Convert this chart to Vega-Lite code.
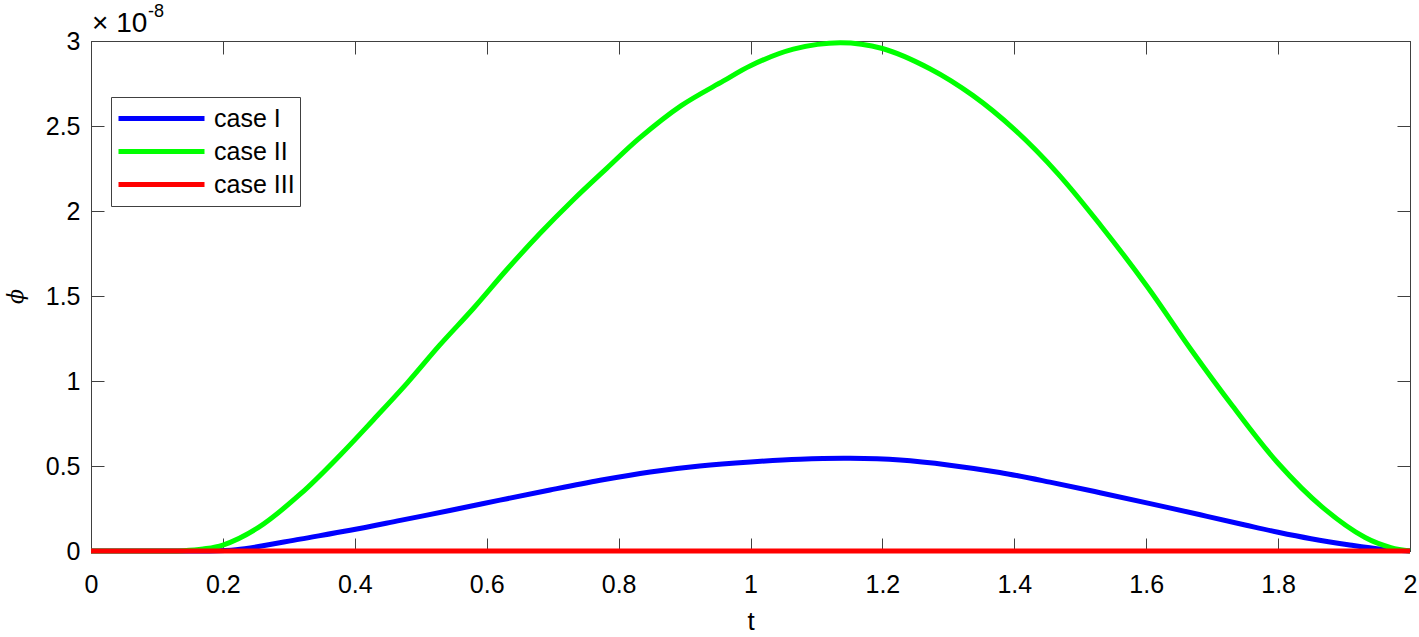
{
  "$schema": "https://vega.github.io/schema/vega-lite/v6.json",
  "width": 1319,
  "height": 510,
  "autosize": {"type": "none"},
  "padding": {"left": 91, "top": 41, "right": 9, "bottom": 86},
  "background": "white",
  "config": {
    "view": {"stroke": "#404040", "strokeWidth": 1},
    "font": "Liberation Sans",
    "axis": {
      "grid": false,
      "domainColor": "#404040",
      "tickColor": "#404040",
      "tickSize": -13,
      "labelColor": "black",
      "labelFont": "Liberation Sans",
      "labelFontSize": 25,
      "titleColor": "black",
      "titleFontWeight": "normal"
    }
  },
  "data": {
    "values": [
      {"t": 0.0, "phi": 0.0, "series": "case I"},
      {"t": 0.15, "phi": 0.0, "series": "case I"},
      {"t": 0.18, "phi": 0.0005e-8, "series": "case I"},
      {"t": 0.22, "phi": 0.008e-8, "series": "case I"},
      {"t": 0.254, "phi": 0.026e-8, "series": "case I"},
      {"t": 0.317, "phi": 0.07e-8, "series": "case I"},
      {"t": 0.393, "phi": 0.122e-8, "series": "case I"},
      {"t": 0.469, "phi": 0.18e-8, "series": "case I"},
      {"t": 0.544, "phi": 0.238e-8, "series": "case I"},
      {"t": 0.62, "phi": 0.299e-8, "series": "case I"},
      {"t": 0.696, "phi": 0.359e-8, "series": "case I"},
      {"t": 0.772, "phi": 0.416e-8, "series": "case I"},
      {"t": 0.848, "phi": 0.465e-8, "series": "case I"},
      {"t": 0.923, "phi": 0.5e-8, "series": "case I"},
      {"t": 1.0, "phi": 0.524e-8, "series": "case I"},
      {"t": 1.075, "phi": 0.54e-8, "series": "case I"},
      {"t": 1.151, "phi": 0.545e-8, "series": "case I"},
      {"t": 1.227, "phi": 0.535e-8, "series": "case I"},
      {"t": 1.302, "phi": 0.505e-8, "series": "case I"},
      {"t": 1.378, "phi": 0.462e-8, "series": "case I"},
      {"t": 1.454, "phi": 0.405e-8, "series": "case I"},
      {"t": 1.53, "phi": 0.343e-8, "series": "case I"},
      {"t": 1.606, "phi": 0.279e-8, "series": "case I"},
      {"t": 1.682, "phi": 0.213e-8, "series": "case I"},
      {"t": 1.75, "phi": 0.153e-8, "series": "case I"},
      {"t": 1.8, "phi": 0.11e-8, "series": "case I"},
      {"t": 1.85, "phi": 0.072e-8, "series": "case I"},
      {"t": 1.906, "phi": 0.037e-8, "series": "case I"},
      {"t": 1.958, "phi": 0.01e-8, "series": "case I"},
      {"t": 2.0, "phi": 0.0, "series": "case I"},
      {"t": 0.0, "phi": 0.0, "series": "case II"},
      {"t": 0.11, "phi": 0.0, "series": "case II"},
      {"t": 0.14, "phi": 0.002e-8, "series": "case II"},
      {"t": 0.17, "phi": 0.012e-8, "series": "case II"},
      {"t": 0.2, "phi": 0.035e-8, "series": "case II"},
      {"t": 0.254, "phi": 0.139e-8, "series": "case II"},
      {"t": 0.318, "phi": 0.337e-8, "series": "case II"},
      {"t": 0.378, "phi": 0.565e-8, "series": "case II"},
      {"t": 0.428, "phi": 0.771e-8, "series": "case II"},
      {"t": 0.479, "phi": 0.986e-8, "series": "case II"},
      {"t": 0.529, "phi": 1.212e-8, "series": "case II"},
      {"t": 0.58, "phi": 1.428e-8, "series": "case II"},
      {"t": 0.63, "phi": 1.653e-8, "series": "case II"},
      {"t": 0.681, "phi": 1.869e-8, "series": "case II"},
      {"t": 0.731, "phi": 2.065e-8, "series": "case II"},
      {"t": 0.782, "phi": 2.251e-8, "series": "case II"},
      {"t": 0.832, "phi": 2.43e-8, "series": "case II"},
      {"t": 0.895, "phi": 2.62e-8, "series": "case II"},
      {"t": 0.959, "phi": 2.765e-8, "series": "case II"},
      {"t": 1.0, "phi": 2.855e-8, "series": "case II"},
      {"t": 1.065, "phi": 2.952e-8, "series": "case II"},
      {"t": 1.136, "phi": 2.99e-8, "series": "case II"},
      {"t": 1.2, "phi": 2.956e-8, "series": "case II"},
      {"t": 1.272, "phi": 2.837e-8, "series": "case II"},
      {"t": 1.337, "phi": 2.68e-8, "series": "case II"},
      {"t": 1.4, "phi": 2.48e-8, "series": "case II"},
      {"t": 1.466, "phi": 2.22e-8, "series": "case II"},
      {"t": 1.531, "phi": 1.915e-8, "series": "case II"},
      {"t": 1.602, "phi": 1.553e-8, "series": "case II"},
      {"t": 1.667, "phi": 1.19e-8, "series": "case II"},
      {"t": 1.731, "phi": 0.853e-8, "series": "case II"},
      {"t": 1.8, "phi": 0.516e-8, "series": "case II"},
      {"t": 1.867, "phi": 0.258e-8, "series": "case II"},
      {"t": 1.932, "phi": 0.079e-8, "series": "case II"},
      {"t": 1.971, "phi": 0.02e-8, "series": "case II"},
      {"t": 2.0, "phi": 0.0, "series": "case II"},
      {"t": 0.0, "phi": 0.0, "series": "case III"},
      {"t": 0.5, "phi": 0.0, "series": "case III"},
      {"t": 1.0, "phi": 0.0, "series": "case III"},
      {"t": 1.5, "phi": 0.0, "series": "case III"},
      {"t": 2.0, "phi": 0.0, "series": "case III"}
    ]
  },
  "layer": [
    {
      "mark": {"type": "line", "strokeWidth": 5, "clip": false, "interpolate": "catmull-rom"},
      "encoding": {
        "x": {
          "field": "t", "type": "quantitative",
          "scale": {"domain": [0, 2], "nice": false, "zero": false},
          "axis": {
            "orient": "bottom",
            "values": [0, 0.2, 0.4, 0.6, 0.8, 1, 1.2, 1.4, 1.6, 1.8, 2],
            "labelExpr": "format(datum.value, '.1~f')",
            "labelPadding": 34,
            "labelFlush": false,
            "title": "t",
            "titleFont": "Liberation Sans",
            "titleFontSize": 26,
            "titlePadding": 11
          }
        },
        "y": {
          "field": "phi", "type": "quantitative",
          "scale": {"domain": [0, 3e-8], "nice": false, "zero": false},
          "axis": {
            "orient": "left",
            "values": [0, 0.5e-8, 1e-8, 1.5e-8, 2e-8, 2.5e-8, 3e-8],
            "labelExpr": "format(datum.value * 1e8, '.1~f')",
            "labelPadding": 24,
            "labelFlush": false,
            "title": "ϕ",
            "titleFont": "DejaVu Serif",
            "titleFontStyle": "italic",
            "titleFontSize": 22,
            "titlePadding": 18
          }
        },
        "color": {
          "field": "series", "type": "nominal",
          "scale": {"domain": ["case I", "case II", "case III"], "range": ["#0000ff", "#00ff00", "#ff0000"]},
          "legend": {
            "title": null,
            "orient": "none",
            "legendX": 20,
            "legendY": 56,
            "symbolType": "stroke",
            "symbolSize": 7396,
            "symbolStrokeWidth": 5,
            "clipHeight": 33,
            "rowPadding": 0,
            "labelFont": "Liberation Sans",
            "labelFontSize": 25,
            "labelColor": "black",
            "labelOffset": 7,
            "padding": 5,
            "strokeColor": "#404040",
            "fillColor": "white"
          }
        }
      }
    },
    {
      "data": {"values": [{"note": "x10"}]},
      "mark": {"type": "text", "text": "× 10", "align": "left", "baseline": "alphabetic", "dx": 1, "dy": -9, "fontSize": 28, "fontWeight": "normal", "font": "Liberation Sans", "color": "black", "clip": false},
      "encoding": {
        "x": {"datum": 0, "type": "quantitative", "axis": {"orient": "top", "labels": false, "title": null, "values": [0, 0.2, 0.4, 0.6, 0.8, 1, 1.2, 1.4, 1.6, 1.8, 2]}},
        "y": {"datum": 3e-8, "type": "quantitative", "axis": {"orient": "right", "labels": false, "title": null, "values": [0, 0.5e-8, 1e-8, 1.5e-8, 2e-8, 2.5e-8, 3e-8]}}
      }
    },
    {
      "data": {"values": [{"note": "exp"}]},
      "mark": {"type": "text", "text": "-8", "align": "left", "baseline": "alphabetic", "dx": 57, "dy": -24, "fontSize": 18, "fontWeight": "normal", "font": "Liberation Sans", "color": "black", "clip": false},
      "encoding": {
        "x": {"datum": 0, "type": "quantitative", "axis": null},
        "y": {"datum": 3e-8, "type": "quantitative", "axis": null}
      }
    }
  ],
  "resolve": {"axis": {"x": "independent", "y": "independent"}}
}
